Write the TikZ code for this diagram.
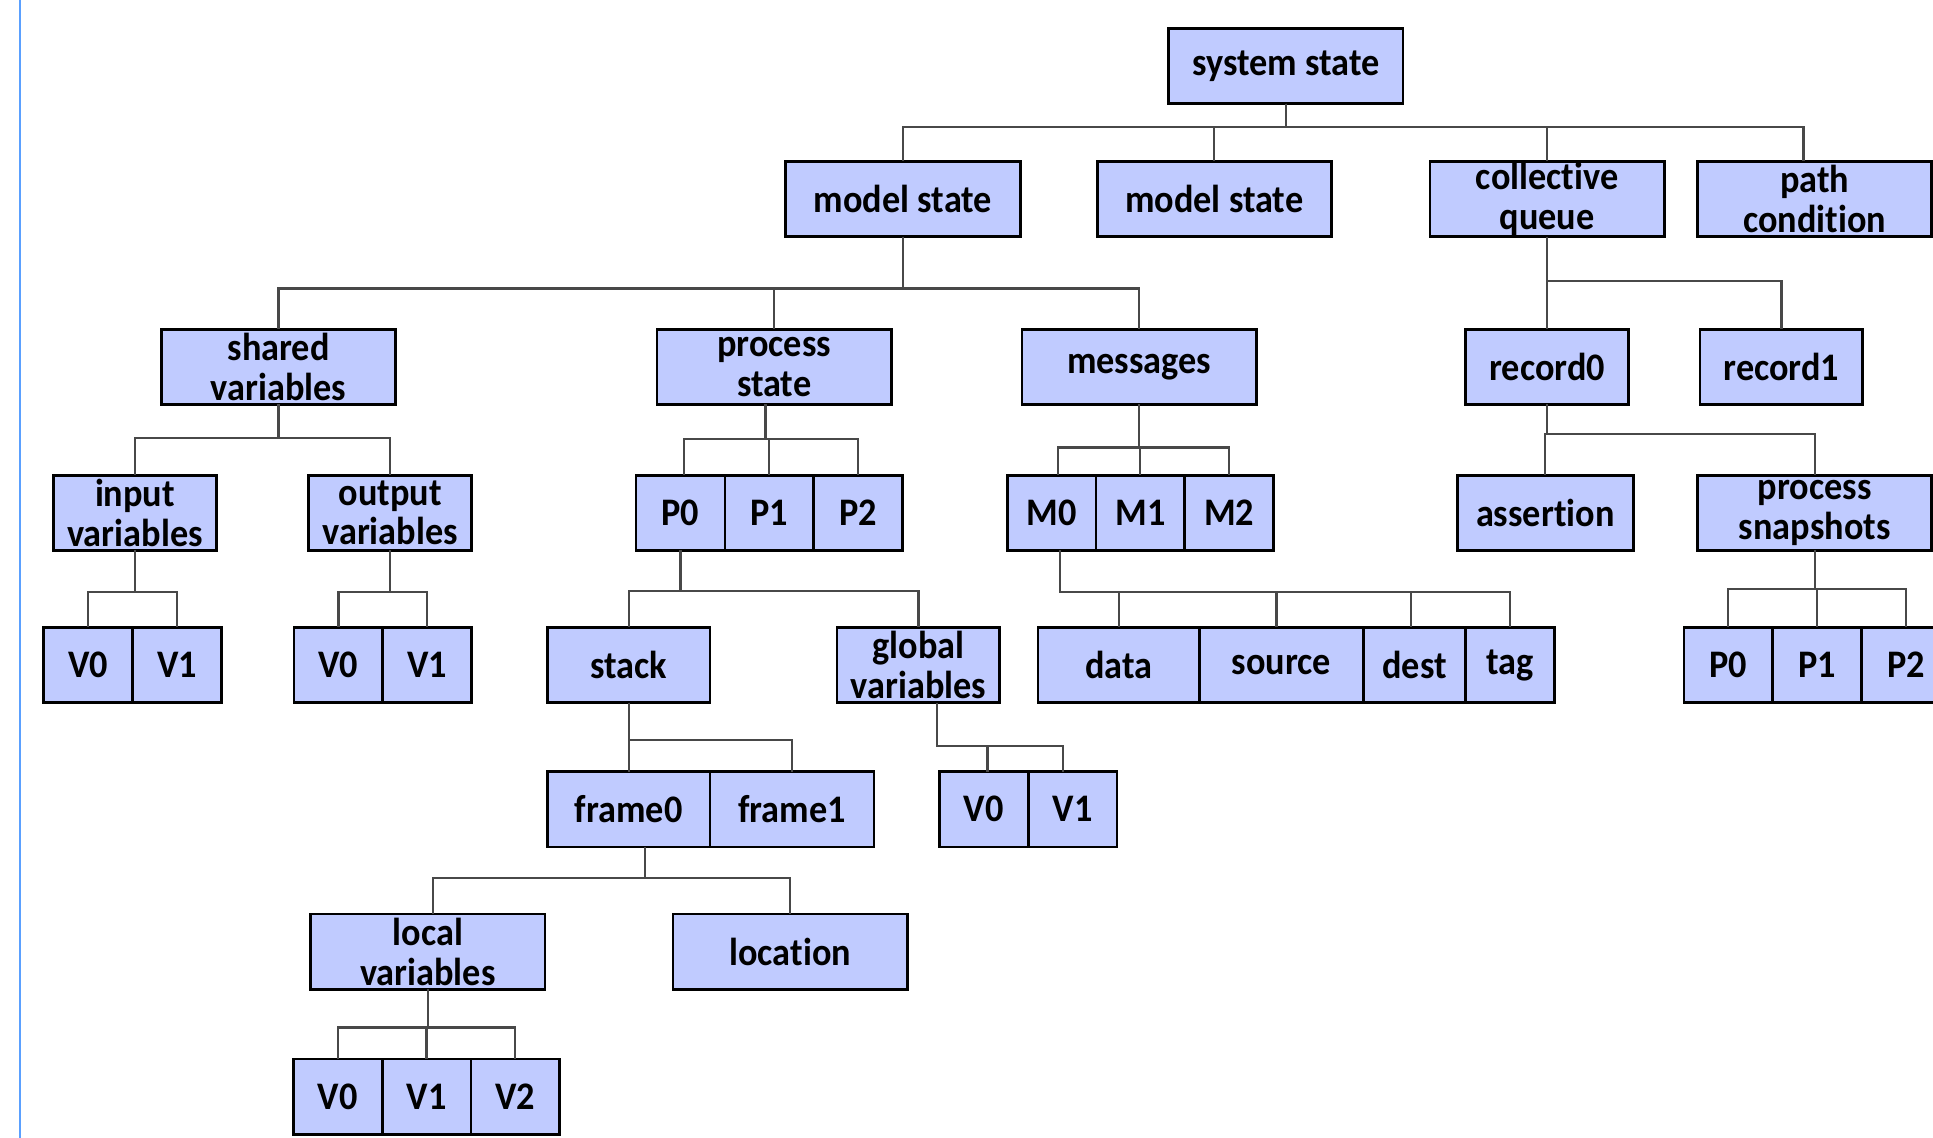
\documentclass[tikz,border=0pt]{standalone}
\usepackage{fontspec}
\setmainfont{Carlito}[FakeStretch=0.93, Ligatures=NoCommon]
\usepackage{tikz}
\usetikzlibrary{positioning}
\definecolor{boxblue}{RGB}{192,203,255}
\definecolor{linkgray}{RGB}{72,72,72}
\definecolor{marginblue}{RGB}{90,160,255}

\begin{document}
\begin{tikzpicture}[
  x=0.025cm, y=-0.025cm,
  node distance=0pt,
  box/.style={draw=black, fill=boxblue, line width=1.6pt, inner sep=0pt, outer sep=0pt,
              minimum height=1.525cm, align=center,
              font=\fontsize{22.5}{23}\selectfont\bfseries},
  wide/.style={box, minimum width=4.75cm},
  mid/.style={box, minimum width=3.3cm},
  cell/.style={box, minimum width=1.8cm},
  link/.style={draw=linkgray, line width=1.3pt},
]
\useasboundingbox (0,0) rectangle (1568,923);
\clip (0,0) rectangle (1568,923);

% left margin rule
\draw[marginblue, line width=1.4pt] (16,0) -- (16,923);

% top levels
\node[wide] (sys) at (1043,53.5) {system state};
\node[wide] (ms1) at (732.5,161.5) {model state};
\node[wide] (ms2) at (985,161.5) {model state};
\node[wide] (cq) at (1255,161.5) {collective\\queue};
\node[wide] (pc) at (1472,161.5) {path\\condition};

\node[wide] (shv) at (226,297.5) {shared\\variables};
\node[wide] (pst) at (628,297.5) {process\\state};
\node[wide] (msg) at (924,297.5) {messages};
\node[mid] (rec0) at (1255,297.5) {record0};
\node[mid] (rec1) at (1445,297.5) {record1};

% fourth row
\node[mid] (inv) at (109.5,416) {input\\variables};
\node[mid] (outv) at (316.5,416) {output\\variables};
\node[cell] (p0) at (552,416) {P0};
\node[cell, right=of p0] (p1) {P1};
\node[cell, right=of p1] (p2) {P2};
\node[cell] (m0) at (853,416) {M0};
\node[cell, right=of m0] (m1) {M1};
\node[cell, right=of m1] (m2) {M2};
\node[mid, minimum width=3.575cm] (asr) at (1253.5,416) {assertion};
\node[wide] (psn) at (1472,416) {process\\snapshots};

% fifth row
\node[cell] (iv0) at (71.5,539.5) {V0};
\node[cell, right=of iv0] (iv1) {V1};
\node[cell] (ov0) at (274.5,539.5) {V0};
\node[cell, right=of ov0] (ov1) {V1};
\node[mid] (stk) at (510,539.5) {stack};
\node[mid] (glv) at (745,539.5) {global\\variables};
\node[box, minimum width=3.275cm] (data) at (907.5,539.5) {data};
\node[box, minimum width=3.325cm, right=of data] (src) {source};
\node[box, minimum width=2.075cm, right=of src] (dest) {dest};
\node[cell, right=of dest] (tag) {tag};
\node[cell] (sp0) at (1402,539.5) {P0};
\node[cell, right=of sp0] (sp1) {P1};
\node[cell, right=of sp1] (sp2) {P2};

% stack frames
\node[mid] (fr0) at (510,656.5) {frame0};
\node[box, minimum width=3.325cm, right=of fr0] (fr1) {frame1};
\node[cell] (gv0) at (798,656.5) {V0};
\node[cell, right=of gv0] (gv1) {V1};

\node[wide] (lcv) at (347,772) {local\\variables};
\node[wide] (loc) at (641,772) {location};
\node[cell] (lv0) at (274,889.5) {V0};
\node[cell, right=of lv0] (lv1) {V1};
\node[cell, right=of lv1] (lv2) {V2};

% connectors
\draw[link] (sys.south) -- ++(0,19) -| (ms1.north);
\draw[link] (sys.south) -- ++(0,19) -| (ms2.north);
\draw[link] (sys.south) -- ++(0,19) -| (cq.north);
\draw[link] (sys.south) -- ++(0,19) -| ([shift={(-9,0)}]pc.north);

\draw[link] (ms1.south) -- ++(0,42) -| (shv.north);
\draw[link] (ms1.south) -- ++(0,42) -| (pst.north);
\draw[link] (ms1.south) -- ++(0,42) -| (msg.north);

\draw[link] (cq.south) -- ++(0,36) -| (rec0.north);
\draw[link] (cq.south) -- ++(0,36) -| (rec1.north);

\draw[link] (shv.south) -- ++(0,27) -| (inv.north);
\draw[link] (shv.south) -- ++(0,27) -| (outv.north);

\draw[link] ([shift={(-7,0)}]pst.south) -- ++(0,28) -| ([shift={(3,0)}]p0.north);
\draw[link] ([shift={(-7,0)}]pst.south) -- ++(0,28) -| (p1.north);
\draw[link] ([shift={(-7,0)}]pst.south) -- ++(0,28) -| (p2.north);

\draw[link] (msg.south) -- ++(0,35) -| ([shift={(5,0)}]m0.north);
\draw[link] (msg.south) -- ++(0,35) -| (m1.north);
\draw[link] (msg.south) -- ++(0,35) -| (m2.north);

\draw[link] (rec0.south) -- ++(0,24) -| (asr.north);
\draw[link] (rec0.south) -- ++(0,24) -| (psn.north);

\draw[link] (inv.south) -- ++(0,34) -| (iv0.north);
\draw[link] (inv.south) -- ++(0,34) -| (iv1.north);
\draw[link] (outv.south) -- ++(0,34) -| (ov0.north);
\draw[link] (outv.south) -- ++(0,34) -| (ov1.north);

\draw[link] (p0.south) -- ++(0,33) -| (stk.north);
\draw[link] (p0.south) -- ++(0,33) -| (glv.north);

\draw[link] ([shift={(7,0)}]m0.south) -- ++(0,34) -| (data.north);
\draw[link] ([shift={(7,0)}]m0.south) -- ++(0,34) -| ([shift={(-4,0)}]src.north);
\draw[link] ([shift={(7,0)}]m0.south) -- ++(0,34) -| ([shift={(-3,0)}]dest.north);
\draw[link] ([shift={(7,0)}]m0.south) -- ++(0,34) -| (tag.north);

\draw[link] (psn.south) -- ++(0,31) -| (sp0.north);
\draw[link] (psn.south) -- ++(0,31) -| (sp1.north);
\draw[link] (psn.south) -- ++(0,31) -| (sp2.north);

\draw[link] (stk.south) -- ++(0,30) -| (fr0.north);
\draw[link] (stk.south) -- ++(0,30) -| (fr1.north);

\draw[link] ([shift={(15,0)}]glv.south) -- ++(0,35) -| ([shift={(3,0)}]gv0.north);
\draw[link] ([shift={(15,0)}]glv.south) -- ++(0,35) -| ([shift={(-8,0)}]gv1.north);

\draw[link] ([shift={(13,0)}]fr0.south) -- ++(0,25) -| ([shift={(4,0)}]lcv.north);
\draw[link] ([shift={(13,0)}]fr0.south) -- ++(0,25) -| (loc.north);

\draw[link] (lcv.south) -- ++(0,31) -| (lv0.north);
\draw[link] (lcv.south) -- ++(0,31) -| (lv1.north);
\draw[link] (lcv.south) -- ++(0,31) -| (lv2.north);

\end{tikzpicture}
\end{document}
